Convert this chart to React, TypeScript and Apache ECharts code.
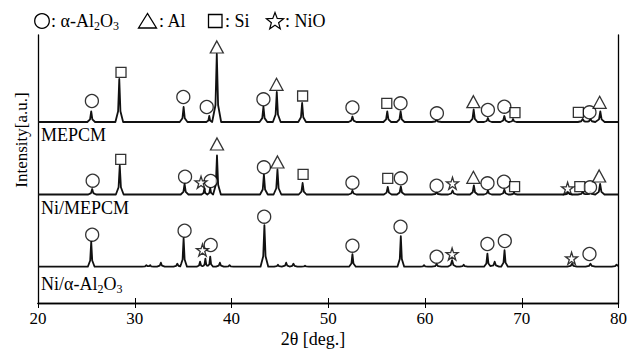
import React, { useEffect, useRef } from "react";
import * as echarts from "echarts";

// ---------- data (2θ in degrees, intensity in arbitrary units) ----------
const xTickValues = [20, 30, 40, 50, 60, 70, 80];

// baselines of the three stacked patterns
const baseMEPCM = 181;
const baseNiMEPCM = 108.5;
const baseNiAl2O3 = 36.3;

// peaks: [2θ, height above baseline, half width]
const peaksMEPCM: number[][] = [
  [25.5, 10.5, 0.4], [28.4, 43, 0.4], [35.05, 15, 0.4], [37.7, 6, 0.3], [38.48, 68, 0.45],
  [43.3, 15.5, 0.4], [44.68, 30, 0.4], [47.3, 19, 0.4], [52.5, 5.5, 0.4], [56.1, 10.5, 0.4],
  [57.48, 10.5, 0.4], [61.2, 2, 0.5], [65.03, 12.5, 0.4], [66.5, 4, 0.4], [68.2, 6, 0.4],
  [69.1, 3, 0.35], [76.3, 3, 0.5], [77.1, 3, 0.5], [78.12, 10.5, 0.45],
];
const peaksNiMEPCM: number[][] = [
  [25.6, 5.5, 0.4], [28.45, 29, 0.4], [35.15, 10.5, 0.4], [37.2, 6, 0.3], [37.8, 6.5, 0.3],
  [38.5, 39, 0.4], [43.35, 20, 0.4], [44.75, 25, 0.4], [47.35, 11.5, 0.4], [52.5, 4, 0.4],
  [56.15, 7.5, 0.4], [57.5, 8, 0.4], [61.2, 2, 0.5], [62.85, 4, 0.45], [65.05, 9, 0.4],
  [66.5, 4, 0.4], [68.2, 5, 0.4], [69.2, 2, 0.35], [74.8, 2, 0.5], [76.3, 2.5, 0.5],
  [77.1, 2.5, 0.5], [78.1, 10.5, 0.45],
];
const peaksNiAl2O3: number[][] = [
  [25.5, 25, 0.35], [31.2, 1.5, 0.45], [31.6, 1.5, 0.35], [32.7, 4, 0.4], [34.4, 3, 0.4],
  [35.05, 28.5, 0.35], [36.75, 5, 0.35], [37.3, 8, 0.3], [37.8, 10, 0.3], [38.8, 4, 0.4],
  [39.8, 1.5, 0.4], [43.4, 41.5, 0.4], [44.8, 2, 0.4], [45.65, 4, 0.4], [46.4, 3, 0.4],
  [47.6, 1, 0.4], [52.5, 12.5, 0.35], [57.5, 30.5, 0.35], [59.9, 1.5, 0.4], [61.2, 2.5, 0.5],
  [62.8, 6.5, 0.45], [64.0, 2, 0.4], [66.45, 13, 0.35], [67.2, 5, 0.45], [68.22, 16.5, 0.35],
  [75.2, 3, 0.5], [77.1, 3, 0.5], [79.8, 2, 0.5],
];

// phase markers: [2θ, intensity]
const alumina: number[][] = [
  [25.57, 202], [35.02, 206], [37.44, 196], [43.3, 203.7], [52.5, 195.5], [57.47, 199.7],
  [61.23, 189.7], [66.5, 193], [68.2, 196.3], [77.0, 190.7],
  [25.65, 122.3], [35.2, 126.3], [37.85, 122], [43.35, 135.7], [52.5, 120.3], [57.5, 124.7],
  [61.2, 117.3], [66.46, 119.7], [68.16, 121.3], [77.06, 115.7],
  [25.6, 68.3], [35.15, 72.3], [37.85, 58], [43.38, 86.3], [52.5, 57.3], [57.47, 76.3],
  [61.2, 46.3], [66.45, 59], [68.25, 62], [77.0, 49],
];
const aluminium: number[][] = [
  [38.48, 256], [44.65, 218.7], [65.0, 201.3], [78.05, 200.7],
  [38.5, 159], [44.75, 141], [65.0, 125.7], [78.0, 127],
];
const silicon: number[][] = [
  [28.58, 230.7], [47.35, 207], [56.05, 199.7], [69.3, 190.3], [75.85, 190.7],
  [28.55, 143.7], [47.4, 128.7], [56.15, 124.7], [69.26, 116.3], [76.0, 116.3],
];
const nickelOxide: number[][] = [
  [36.85, 120.7], [62.84, 119.7], [74.74, 114.7],
  [37.0, 53], [62.8, 49], [75.15, 44.7],
];

// ---------- helpers ----------
function peakAt(x: number, p: number, h: number, w: number): number {
  const d = Math.abs(x - p);
  if (d >= w) return 0;
  const t = d / w;
  if (t <= 0.3) return h - 0.75 * h * (t / 0.3);
  return 0.25 * h * (1 - (t - 0.3) / 0.7);
}

function buildTrace(base: number, peaks: number[][]): number[][] {
  const xs = new Set<number>([20, 80]);
  peaks.forEach(([p, , w]) => {
    [p - w, p - 0.3 * w, p, p + 0.3 * w, p + w].forEach((x) => xs.add(Math.round(x * 1000) / 1000));
  });
  const sorted = Array.from(xs).filter((x) => x >= 20 && x <= 80).sort((a, b) => a - b);
  return sorted.map((x) => [x, base + peaks.reduce((s, [p, h, w]) => s + peakAt(x, p, h, w), 0)]);
}

function starPoints(cx: number, cy: number, r: number, ri: number): number[][] {
  const pts: number[][] = [];
  for (let i = 0; i < 10; i++) {
    const a = -Math.PI / 2 + (i * Math.PI) / 5;
    const rr = i % 2 === 0 ? r : ri;
    pts.push([cx + rr * Math.cos(a), cy + rr * Math.sin(a)]);
  }
  return pts;
}

const FONT = "Liberation Serif";
const STAR =
  "path://M12,0 L14.8,8.6 L23.8,8.6 L16.5,13.9 L19.3,22.5 L12,17.2 L4.7,22.5 L7.5,13.9 L0.2,8.6 L9.2,8.6 Z";

const markerStyle = { color: "#fff", borderColor: "#000", borderWidth: 1.3 };

export default function App() {
  const ref = useRef<HTMLDivElement>(null);

  useEffect(() => {
    if (!ref.current) return;
    const chart = echarts.init(ref.current, undefined, { renderer: "svg" });

    const lineSeries = (name: string, data: number[][]) => ({
      name,
      type: "line",
      data,
      showSymbol: false,
      symbol: "none",
      lineStyle: { color: "#111", width: 1.8, join: "round" },
      z: 2,
      silent: true,
    });
    const scatterSeries = (name: string, data: number[][], symbol: string, size: any) => ({
      name,
      type: "scatter",
      data,
      symbol,
      symbolSize: size,
      itemStyle: markerStyle,
      z: 5,
      silent: true,
    });

    const subRich = {
      a: { fontSize: 18, fontFamily: FONT, color: "#000" },
      s: { fontSize: 12, fontFamily: FONT, color: "#000", padding: [9, 0, 0, 0] },
    };

    const txt = (text: string, x: number, y: number, extra: any = {}) => ({
      type: "text",
      x,
      y,
      style: { text, fontSize: 18, fontFamily: FONT, fill: "#000", verticalAlign: "middle", ...extra },
    });

    chart.setOption({
      animation: false,
      backgroundColor: "#fff",
      textStyle: { fontFamily: FONT },
      grid: { left: 38, right: 7, top: 35, bottom: 46, containLabel: false },
      xAxis: [
        {
          type: "value",
          min: 20,
          max: 80,
          interval: 10,
          position: "bottom",
          axisLine: { lineStyle: { color: "#000", width: 1.3 } },
          axisTick: { inside: true, length: 5, lineStyle: { color: "#000", width: 1 } },
          axisLabel: {
            color: "#000",
            fontSize: 17,
            fontFamily: FONT,
            margin: 7,
            customValues: xTickValues,
          },
          splitLine: { show: false },
        },
        {
          type: "value",
          min: 20,
          max: 80,
          interval: 10,
          position: "top",
          axisLine: { lineStyle: { color: "#000", width: 1.3 } },
          axisTick: { inside: true, length: 5, lineStyle: { color: "#000", width: 1 } },
          axisLabel: { show: false },
          splitLine: { show: false },
        },
      ],
      yAxis: [
        {
          type: "value",
          min: 0,
          max: 268,
          position: "left",
          axisLine: { show: true, lineStyle: { color: "#000", width: 1.3 } },
          axisTick: { show: false },
          axisLabel: { show: false },
          splitLine: { show: false },
        },
        {
          type: "value",
          min: 0,
          max: 268,
          position: "right",
          axisLine: { show: true, lineStyle: { color: "#000", width: 1.3 } },
          axisTick: { show: false },
          axisLabel: { show: false },
          splitLine: { show: false },
        },
      ],
      series: [
        lineSeries("MEPCM", buildTrace(baseMEPCM, peaksMEPCM)),
        lineSeries("Ni/MEPCM", buildTrace(baseNiMEPCM, peaksNiMEPCM)),
        lineSeries("Ni/α-Al2O3", buildTrace(baseNiAl2O3, peaksNiAl2O3)),
        scatterSeries("α-Al2O3", alumina, "circle", 13),
        scatterSeries("Al", aluminium, "triangle", [13, 12]),
        scatterSeries("Si", silicon, "rect", 10),
        scatterSeries("NiO", nickelOxide, STAR, 12),
      ],
      graphic: [
        // legend
        { type: "circle", shape: { cx: 42, cy: 21, r: 7.3 }, style: { fill: "#fff", stroke: "#000", lineWidth: 1.3 } },
        {
          type: "text",
          x: 51,
          y: 21,
          style: { text: "{a|: α-Al}{s|2}{a|O}{s|3}", rich: subRich, verticalAlign: "middle", align: "left" },
        },
        {
          type: "polygon",
          shape: { points: [[147.5, 13.5], [138.5, 28], [156.5, 28]] },
          style: { fill: "#fff", stroke: "#000", lineWidth: 1.3 },
        },
        txt(": Al", 159, 21),
        { type: "rect", shape: { x: 208.5, y: 14.5, width: 13.5, height: 13 }, style: { fill: "#fff", stroke: "#000", lineWidth: 1.3 } },
        txt(": Si", 225, 21),
        {
          type: "polygon",
          shape: { points: starPoints(275, 21.5, 9, 3.8) },
          style: { fill: "#fff", stroke: "#000", lineWidth: 1.2 },
        },
        txt(": NiO", 285, 21),
        // pattern labels
        txt("MEPCM", 41, 135),
        txt("Ni/MEPCM", 41, 208),
        {
          type: "text",
          x: 41,
          y: 284,
          style: { text: "{a|Ni/α-Al}{s|2}{a|O}{s|3}", rich: subRich, verticalAlign: "middle", align: "left" },
        },
        // axis names
        txt("2θ [deg.]", 313, 339, { align: "center" }),
        {
          type: "text",
          x: 21,
          y: 140,
          rotation: Math.PI / 2,
          style: { text: "Intensity[a.u.]", fontSize: 17, fontFamily: FONT, fill: "#000", align: "center", verticalAlign: "middle" },
        },
      ],
    });

    return () => chart.dispose();
  }, []);

  return <div ref={ref} style={{ width: 630, height: 349, position: "absolute", left: 0, top: 0 }} />;
}
